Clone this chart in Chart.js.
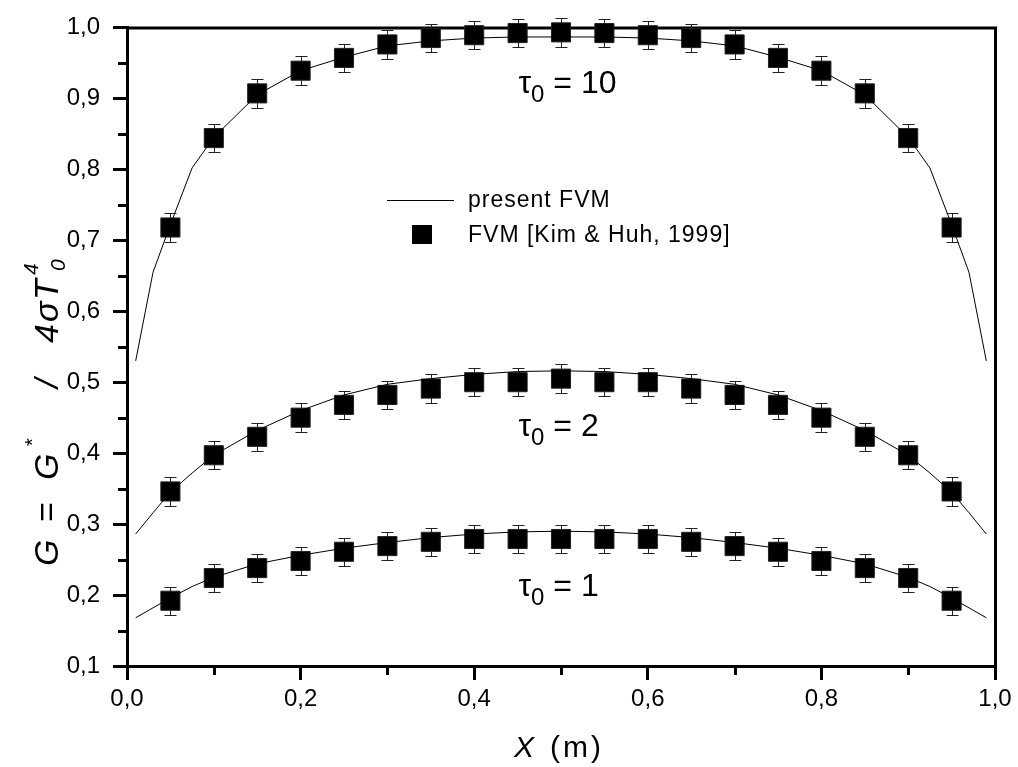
<!DOCTYPE html>
<html>
<head>
<meta charset="utf-8">
<script src="https://cdn.jsdelivr.net/npm/chart.js@4.4.0/dist/chart.umd.min.js"></script>
<style>
  html, body { margin: 0; padding: 0; background: #fff; }
  #wrap { width: 1018px; height: 767px; }
</style>
</head>
<body>
<div id="wrap"><canvas id="chart" width="1018" height="767"></canvas></div>
<script>
/* ---------------------------
   Data
--------------------------- */
const FONT = "'Liberation Sans', Arial, Helvetica, sans-serif";

// x positions of the reference squares (Kim & Huh, 1999)
const sampleX = [0.05, 0.10, 0.15, 0.20, 0.25, 0.30, 0.35, 0.40, 0.45, 0.50,
                 0.55, 0.60, 0.65, 0.70, 0.75, 0.80, 0.85, 0.90, 0.95];

const refTau10 = [0.718, 0.844, 0.907, 0.939, 0.957, 0.976, 0.985, 0.989, 0.992, 0.993,
                  0.992, 0.989, 0.985, 0.976, 0.957, 0.939, 0.907, 0.844, 0.718];
const refTau2  = [0.346, 0.397, 0.423, 0.450, 0.468, 0.482, 0.491, 0.500, 0.500, 0.505,
                  0.500, 0.500, 0.491, 0.482, 0.468, 0.450, 0.423, 0.397, 0.346];
const refTau1  = [0.192, 0.224, 0.238, 0.248, 0.261, 0.269, 0.275, 0.279, 0.279, 0.279,
                  0.279, 0.279, 0.275, 0.269, 0.261, 0.248, 0.238, 0.224, 0.192];

// error bar half-heights
const errTau10 = [0.020, 0.020, 0.020, 0.020, 0.020, 0.021, 0.020, 0.020, 0.020, 0.020,
                  0.020, 0.020, 0.020, 0.021, 0.020, 0.020, 0.020, 0.020, 0.020];
const errTau2  = [0.020, 0.020, 0.020, 0.020, 0.020, 0.020, 0.020, 0.020, 0.020, 0.020,
                  0.020, 0.020, 0.020, 0.020, 0.020, 0.020, 0.020, 0.020, 0.020];
const errTau1  = [0.020, 0.020, 0.020, 0.020, 0.020, 0.020, 0.020, 0.020, 0.020, 0.020,
                  0.020, 0.020, 0.020, 0.020, 0.020, 0.020, 0.020, 0.020, 0.020];

// present FVM curves
const lineX = [0.01, 0.03, 0.05, 0.075, 0.10, 0.15, 0.20, 0.25, 0.30, 0.35, 0.40, 0.45, 0.50,
               0.55, 0.60, 0.65, 0.70, 0.75, 0.80, 0.85, 0.90, 0.925, 0.95, 0.97, 0.99];
const fvmTau10 = [0.530, 0.655, 0.722, 0.802, 0.845, 0.905, 0.939, 0.958, 0.974, 0.981, 0.985, 0.9865, 0.9865,
                  0.9865, 0.985, 0.981, 0.974, 0.958, 0.939, 0.905, 0.845, 0.802, 0.722, 0.655, 0.530];
const fvmTau2  = [0.286, 0.316, 0.345, 0.372, 0.397, 0.432, 0.460, 0.482, 0.497, 0.505, 0.511, 0.515, 0.516,
                  0.515, 0.511, 0.505, 0.497, 0.482, 0.460, 0.432, 0.397, 0.372, 0.345, 0.316, 0.286];
const fvmTau1  = [0.168, 0.182, 0.196, 0.212, 0.225, 0.244, 0.256, 0.266, 0.274, 0.281, 0.286, 0.289, 0.290,
                  0.289, 0.286, 0.281, 0.274, 0.266, 0.256, 0.244, 0.225, 0.212, 0.196, 0.182, 0.168];

// axes
const xTicks = [0.0, 0.2, 0.4, 0.6, 0.8, 1.0];
const xMinorTicks = [0.1, 0.3, 0.5, 0.7, 0.9];
const yTicks = [0.1, 0.2, 0.3, 0.4, 0.5, 0.6, 0.7, 0.8, 0.9, 1.0];
const yMinorTicks = [0.15, 0.25, 0.35, 0.45, 0.55, 0.65, 0.75, 0.85, 0.95];

// curve labels: [tau value, x, y] in data units
const tauLabels = [["10", 0.451, 0.908], ["2", 0.451, 0.424], ["1", 0.451, 0.199]];

const legendLine = "present FVM";
const legendSquare = "FVM [Kim & Huh, 1999]";

/* ---------------------------
   Helpers
--------------------------- */
const comma = v => Number(v).toFixed(1).replace(".", ",");
const pts = (xs, ys) => xs.map((x, i) => ({ x, y: ys[i] }));

// draw text made of runs (italic / sub / sup) left to right
function drawRuns(ctx, runs, x, y) {
  let cx = x;
  for (const r of runs) {
    ctx.font = `${r.italic ? "italic " : ""}${r.size}px ${FONT}`;
    ctx.letterSpacing = (r.ls || 0) + "px";
    cx += r.dx || 0;
    ctx.fillText(r.t, cx, y + (r.dy || 0));
    cx += ctx.measureText(r.t).width;
  }
  ctx.letterSpacing = "0px";
}

// glyphs placed at fixed offsets along the baseline (Origin-like spacing)
function drawPlaced(ctx, glyphs) {
  for (const g of glyphs) {
    ctx.font = `${g.italic ? "italic " : ""}${g.size}px ${FONT}`;
    ctx.fillText(g.t, g.at, g.dy || 0);
  }
}

function lineSet(data) {
  return {
    data, showLine: true, borderColor: "#000", borderWidth: 1,
    pointRadius: 0, tension: 0, fill: false, clip: false
  };
}
function squareSet(data, err) {
  return {
    data, err, showLine: false, pointStyle: "rect", pointRadius: 13.5,
    backgroundColor: "#000", borderColor: "#222", borderWidth: 1, clip: false
  };
}

/* ---------------------------
   Extra drawing: frame, minor ticks, error bars, labels
--------------------------- */
const decorations = {
  id: "decorations",
  beforeDatasetsDraw(chart) {
    const { ctx, chartArea: a, scales: { x, y } } = chart;
    ctx.save();
    ctx.strokeStyle = "#000";
    ctx.lineWidth = 3;
    ctx.beginPath();
    ctx.moveTo(a.left, a.top + 0.5);
    ctx.lineTo(a.right + 2, a.top + 0.5);
    ctx.moveTo(a.right + 0.5, a.top);
    ctx.lineTo(a.right + 0.5, a.bottom + 2);
    for (const v of xMinorTicks) {
      const px = Math.round(x.getPixelForValue(v)) + 0.5;
      ctx.moveTo(px, a.bottom + 1);
      ctx.lineTo(px, a.bottom + 9);
    }
    for (const v of yMinorTicks) {
      const py = Math.round(y.getPixelForValue(v)) + 0.5;
      ctx.moveTo(a.left - 1, py);
      ctx.lineTo(a.left - 9, py);
    }
    ctx.stroke();

    // error bars
    ctx.strokeStyle = "#222";
    ctx.lineWidth = 1;
    chart.data.datasets.forEach(ds => {
      if (!ds.err) return;
      ds.data.forEach((p, i) => {
        const px = Math.round(x.getPixelForValue(p.x)) + 0.5;
        const top = Math.round(y.getPixelForValue(p.y + ds.err[i])) + 0.5;
        const bot = Math.round(y.getPixelForValue(p.y - ds.err[i])) + 0.5;
        ctx.beginPath();
        ctx.moveTo(px, top); ctx.lineTo(px, bot);
        ctx.moveTo(px - 6, top); ctx.lineTo(px + 6, top);
        ctx.moveTo(px - 6, bot); ctx.lineTo(px + 6, bot);
        ctx.stroke();
      });
    });
    ctx.restore();
  },
  afterDraw(chart) {
    const { ctx, chartArea: a, scales: { x, y } } = chart;
    ctx.save();
    ctx.fillStyle = "#000";
    ctx.textBaseline = "alphabetic";
    ctx.textAlign = "left";

    // tau labels
    for (const [t, lx, ly] of tauLabels) {
      drawRuns(ctx, [
        { t: "\u03c4", size: 32 },
        { t: "0", size: 24, dy: 9 },
        { t: " = " + t, size: 32 }
      ], x.getPixelForValue(lx), y.getPixelForValue(ly));
    }

    // legend
    ctx.strokeStyle = "#000";
    ctx.lineWidth = 1;
    ctx.beginPath();
    ctx.moveTo(387, 200.5);
    ctx.lineTo(454, 200.5);
    ctx.stroke();
    ctx.fillRect(412, 225, 20, 19);
    ctx.textBaseline = "middle";
    drawRuns(ctx, [{ t: legendLine, size: 23, ls: 1 }], 468, 201);
    drawRuns(ctx, [{ t: legendSquare, size: 23, ls: 1 }], 468, 236);
    ctx.textBaseline = "alphabetic";

    // x title
    const xc = (a.left + a.right) / 2;
    drawRuns(ctx, [
      { t: "X", size: 30, italic: true },
      { t: "(m)", size: 30, dx: 16, ls: 3 }
    ], xc - 47, 757);

    // y title (rotated, reads bottom to top)
    ctx.translate(58, 566);
    ctx.rotate(-Math.PI / 2);
    drawPlaced(ctx, [
      { t: "G", at: 0, size: 34, italic: true },
      { t: "=", at: 44, size: 34 },
      { t: "G", at: 86, size: 34, italic: true },
      { t: "*", at: 120, size: 20, dy: -19 },
      { t: "/", at: 178, size: 34, italic: true },
      { t: "4", at: 223, size: 34, italic: true },
      { t: "\u03c3", at: 244, size: 34, italic: true },
      { t: "T", at: 266, size: 34, italic: true },
      { t: "4", at: 291, size: 21, italic: true, dy: -20 },
      { t: "0", at: 295, size: 21, italic: true, dy: 7 }
    ]);
    ctx.restore();
  }
};

/* ---------------------------
   Chart
--------------------------- */
const tickFont = { family: FONT, size: 24 };

new Chart(document.getElementById("chart"), {
  type: "scatter",
  data: {
    datasets: [
      lineSet(pts(lineX, fvmTau10)),
      lineSet(pts(lineX, fvmTau2)),
      lineSet(pts(lineX, fvmTau1)),
      squareSet(pts(sampleX, refTau10), errTau10),
      squareSet(pts(sampleX, refTau2), errTau2),
      squareSet(pts(sampleX, refTau1), errTau1)
    ]
  },
  options: {
    responsive: false,
    animation: false,
    devicePixelRatio: 1,
    layout: { padding: { top: 22, right: 23, left: 0, bottom: 0 } },
    plugins: { legend: { display: false }, tooltip: { enabled: false } },
    scales: {
      x: {
        type: "linear", min: 0, max: 1,
        afterBuildTicks: s => { s.ticks = xTicks.map(v => ({ value: v })); },
        afterFit: s => { s.height = 101; },
        ticks: { callback: v => comma(v), font: tickFont, color: "#000", padding: 5, maxRotation: 0, autoSkip: false },
        grid: { drawOnChartArea: false, tickLength: 14, tickWidth: 3, tickColor: "#000" },
        border: { display: true, width: 3, color: "#000" }
      },
      y: {
        type: "linear", min: 0.1, max: 1.0,
        afterBuildTicks: s => { s.ticks = yTicks.map(v => ({ value: v })); },
        afterFit: s => { s.width = 127; },
        ticks: { callback: v => comma(v), font: tickFont, color: "#000", padding: 13, autoSkip: false },
        grid: { drawOnChartArea: false, tickLength: 14, tickWidth: 3, tickColor: "#000" },
        border: { display: true, width: 3, color: "#000" }
      }
    }
  },
  plugins: [decorations]
});
</script>
</body>
</html>
